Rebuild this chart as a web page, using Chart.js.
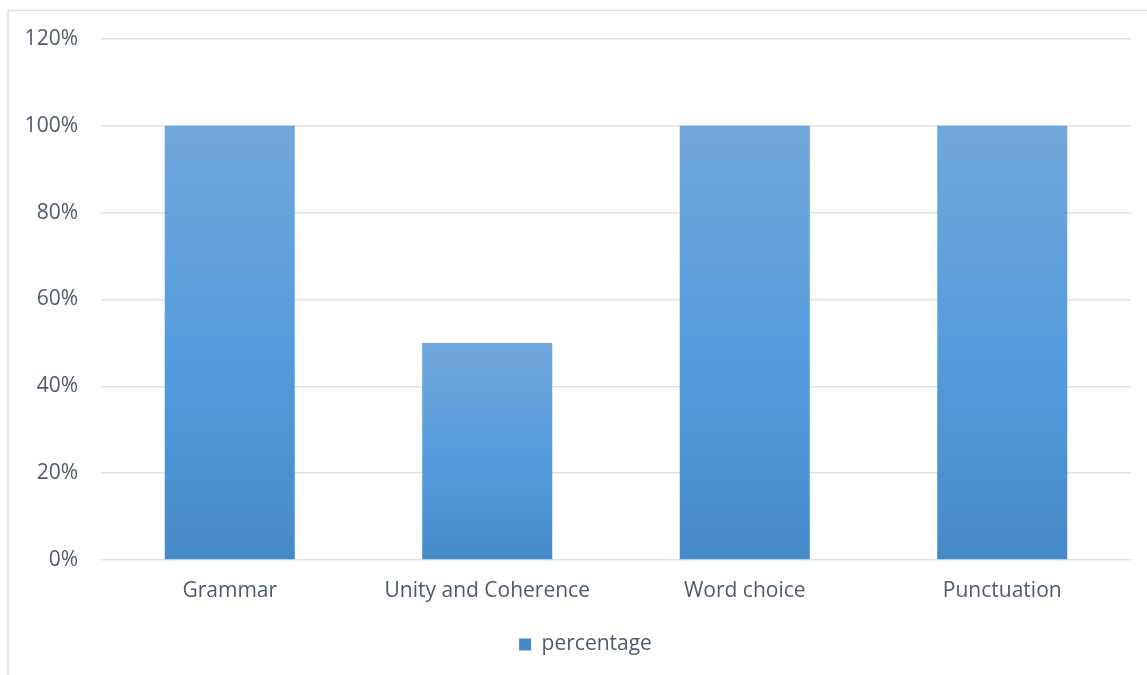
<!DOCTYPE html>
<html>
<head>
<meta charset="utf-8">
<script src="https://cdn.jsdelivr.net/npm/chart.js@4/dist/chart.umd.min.js"></script>
<style>
  html, body { margin: 0; padding: 0; background: #ffffff; }
  #wrap { position: relative; width: 1147px; height: 675px; }
  canvas { display: block; }
</style>
</head>
<body>
<div id="wrap"><canvas id="skillsChart" width="1147" height="675"></canvas></div>
<script>
const categories = ["Grammar", "Unity and Coherence", "Word choice", "Punctuation"];
const percentage = [100, 50, 100, 100];
const yTicks = [0, 20, 40, 60, 80, 100, 120];

const textColor = "#4e5b6f";
const gridColor = "#dde1e8";

// bar fill: lighter at the top of each bar, darker at its base
function barFill(c) {
  const chart = c.chart;
  const y = chart.scales && chart.scales.y;
  if (c.dataIndex === undefined || !y || !chart.chartArea) return "#63a1db";
  const top = y.getPixelForValue(c.dataset.data[c.dataIndex]);
  const base = y.getPixelForValue(0);
  const g = chart.ctx.createLinearGradient(0, top, 0, base);
  g.addColorStop(0, "#70a6db");
  g.addColorStop(0.5, "#579ddd");
  g.addColorStop(1, "#4589c8");
  return g;
}

// thin frame along the left and top edges, legend nudged right
const framePlugin = {
  id: "frame",
  afterLayout(chart) {
    if (chart.legend) {
      chart.legend.left += 20;
      chart.legend.right += 20;
    }
  },
  beforeDraw(chart) {
    const ctx = chart.ctx;
    ctx.save();
    ctx.strokeStyle = gridColor;
    ctx.lineWidth = 1.5;
    ctx.beginPath();
    ctx.moveTo(8, chart.height);
    ctx.lineTo(8, 10.5);
    ctx.lineTo(chart.width, 10.5);
    ctx.stroke();
    ctx.restore();
  }
};

const ctx = document.getElementById("skillsChart").getContext("2d");
const skillsChart = new Chart(ctx, {
  type: "bar",
  data: {
    labels: categories,
    datasets: [
      {
        label: "percentage",
        data: percentage,
        backgroundColor: barFill,
        borderWidth: 0,
        categoryPercentage: 0.505,
        barPercentage: 1,
      },
    ],
  },
  options: {
    responsive: false,
    animation: false,
    devicePixelRatio: 1,
    layout: { padding: { left: 0, right: 16, top: 39, bottom: 10 } },
    plugins: {
      tooltip: { enabled: false },
      legend: {
        position: "bottom",
        labels: {
          color: textColor,
          font: { family: "Open Sans", size: 21 },
          boxWidth: 12,
          boxHeight: 12,
          padding: 10,
        },
      },
    },
    scales: {
      x: {
        grid: { display: false },
        border: { display: false },
        ticks: {
          color: textColor,
          font: { family: "Open Sans", size: 21 },
          padding: 10,
        },
        afterFit(scale) { scale.height = 64; },
      },
      y: {
        min: 0,
        max: 120,
        afterBuildTicks(scale) { scale.ticks = yTicks.map(v => ({ value: v })); },
        afterFit(scale) { scale.width = 101; },
        grid: { color: gridColor, lineWidth: 1.5, drawTicks: false },
        border: { display: false },
        ticks: {
          color: textColor,
          font: { family: "Open Sans", size: 21 },
          padding: 23,
          callback: v => v + "%",
        },
      },
    },
  },
  plugins: [framePlugin],
});
</script>
</body>
</html>
